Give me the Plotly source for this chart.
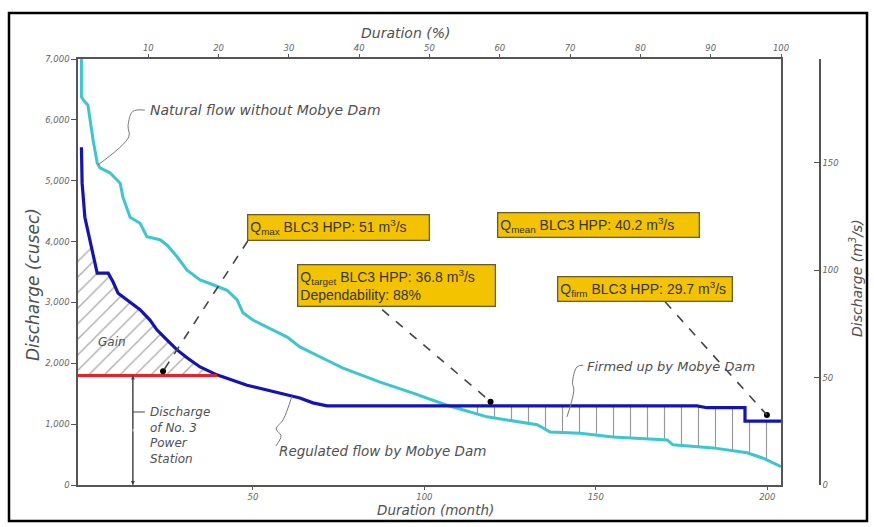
import numpy as np
import plotly.graph_objects as go

# ---------------- data ----------------
nat_month = [0, 0, 0.8, 1.9, 3.4, 4.6, 5.4, 8.3, 11.3, 12.1, 14.2, 17.1, 19.1, 22.9, 25.0, 27.9,
             30.8, 34.6, 38.4, 42.5, 45.4, 47.1, 50.0, 54.1, 60.0, 63.7, 67.5, 71.6, 76.3, 81.3,
             87.1, 96.7, 106.6, 118.3, 127.9, 132.9, 136.7, 145.4, 155.0, 170.8, 172.5, 184.2,
             194.1, 198.8, 204.0]
nat_cfs = [7000, 6380, 6310, 6240, 5670, 5290, 5210, 5130, 4960, 4730, 4400, 4300, 4080, 4030, 3940,
           3750, 3530, 3370, 3290, 3200, 3040, 2830, 2710, 2600, 2430, 2270, 2170, 2050, 1920, 1810,
           1690, 1510, 1310, 1120, 1040, 990, 870, 850, 790, 740, 660, 610, 530, 440, 300]

reg_month = [0, 0.2, 1.0, 2.5, 4.0, 4.6, 7.8, 9.2, 10.7, 13.3, 17.1, 20.0, 22.0, 25.0, 27.9, 30.8,
             34.6, 39.5, 44.2, 48.3, 54.1, 60.0, 63.7, 67.5, 71.6, 179.5, 182.4, 193.5, 193.5, 204.0]
reg_cfs = [5550, 4960, 4400, 4030, 3650, 3480, 3480, 3340, 3150, 3040, 2880, 2710, 2550, 2380, 2220,
           2090, 1940, 1810, 1720, 1640, 1560, 1480, 1430, 1350, 1300, 1300, 1270, 1270, 1050, 1050]

station_cfs = 1800          # discharge of No. 3 power station (~51 m3/s)
gain_top_cfs = 3900         # upper end of the hatched "Gain" area

left_ticks = [0, 1000, 2000, 3000, 4000, 5000, 6000, 7000]
left_ticktext = ["0", "1,000", "2,000", "3,000", "4,000", "5,000", "6,000", "7,000"]
month_ticks = [50, 100, 150, 200]
pct_ticks = [10, 20, 30, 40, 50, 60, 70, 80, 90, 100]
m3s_ticks = [0, 50, 100, 150]
CFS_PER_M3S = 35.3147

box_texts = [
    "Q<sub>max</sub> BLC3 HPP: 51 m<sup>3</sup>/s",
    "Q<sub>mean</sub> BLC3 HPP: 40.2 m<sup>3</sup>/s",
    "Q<sub>target</sub> BLC3 HPP: 36.8 m<sup>3</sup>/s<br>Dependability: 88%",
    "Q<sub>firm</sub> BLC3 HPP: 29.7 m<sup>3</sup>/s",
]
# dashed pointer lines (start month, start cfs, end month, end cfs)
pointers = [
    (48.5, 4010, 23.8, 1870),
    (87.7, 2880, 119.3, 1370),
    (170.2, 3010, 199.9, 1150),
]

# ---------------- geometry helpers ----------------
L, R, T, B = 78, 54, 59, 42
W, H = 874, 527
PW = W - L - R
PH = H - T - B
DOM = (781 - L) / PW


def px(x):
    return (x - L) / PW


def py(y):
    return (H - B - y) / PH


CYAN = "#3cc6d2"
BLUE = "#1414b4"
RED = "#e3242b"
INK = "#555555"
HAND = dict(family="DejaVu Sans", color="#505050", style="italic")

fig = go.Figure()

# ---- Gain hatched area (between axis, station line and regulated curve) ----
rm = np.array(reg_month, float)
rc = np.array(reg_cfs, float)
top_m = np.interp(gain_top_cfs, rc[:5][::-1], rm[:5][::-1])
mono = slice(0, 18)
end_m = np.interp(station_cfs, rc[mono][::-1], rm[mono][::-1])
sel = (rm > top_m) & (rm < end_m)
gx = [-1, -1, top_m] + list(rm[sel]) + [end_m, -1]
gy = [station_cfs, gain_top_cfs, gain_top_cfs] + list(rc[sel]) + [station_cfs, station_cfs]
fig.add_trace(go.Scatter(x=gx, y=gy, fill="toself", mode="lines", line=dict(width=0),
                         fillcolor="rgba(0,0,0,0)",
                         fillpattern=dict(shape="/", fgcolor="#555", bgcolor="rgba(0,0,0,0)",
                                          size=11, solidity=0.12),
                         hoverinfo="skip"))

# ---- Firmed-up vertical hatching (regulated above natural) ----
grid = np.linspace(100, 204, 600)
b = np.interp(grid, rm, rc)
n = np.interp(grid, nat_month, nat_cfs)
ok = b > n
fx = list(grid[ok]) + list(grid[ok][::-1])
fy = list(b[ok]) + list(n[ok][::-1])
fig.add_trace(go.Scatter(x=fx, y=fy, fill="toself", mode="lines", line=dict(width=0),
                         fillcolor="rgba(0,0,0,0)",
                         fillpattern=dict(shape="|", fgcolor="#333", bgcolor="rgba(0,0,0,0)",
                                          size=17, solidity=0.07),
                         hoverinfo="skip"))

# ---- curves ----
fig.add_trace(go.Scatter(x=nat_month, y=nat_cfs, mode="lines",
                         line=dict(color=CYAN, width=3), hoverinfo="skip"))
fig.add_trace(go.Scatter(x=reg_month, y=reg_cfs, mode="lines",
                         line=dict(color=BLUE, width=3.2), hoverinfo="skip"))
fig.add_trace(go.Scatter(x=[-1, end_m], y=[station_cfs, station_cfs], mode="lines",
                         line=dict(color=RED, width=3), hoverinfo="skip"))

# ---- leader lines (hand drawn) ----
leaders = [
    ([18.5, 15.0, 13.6, 13.8, 4.8], [6160, 6140, 5910, 5720, 5260]),
    ([61.4, 60.0, 58.8, 56.8, 58.2, 56.7], [1460, 1230, 1070, 920, 810, 640]),
    ([146.3, 144.5, 143.2, 143.6, 141.6], [1970, 1940, 1680, 1560, 1120]),
]
for lx, ly in leaders:
    fig.add_trace(go.Scatter(x=lx, y=ly, mode="lines", line=dict(color="#777", width=1, shape="spline"),
                             hoverinfo="skip"))

# pointer end dots
fig.add_trace(go.Scatter(x=[p[2] for p in pointers], y=[p[3] for p in pointers], mode="markers",
                         marker=dict(color="black", size=6), hoverinfo="skip"))

# invisible traces to activate secondary axes
fig.add_trace(go.Scatter(x=[0, 100], y=[0, 0], xaxis="x2", mode="markers",
                         marker=dict(opacity=0), hoverinfo="skip"))
fig.add_trace(go.Scatter(x=[0, 0], y=[0, 0], yaxis="y2", mode="markers",
                         marker=dict(opacity=0), hoverinfo="skip"))

shapes = []
for sx, sy, ex, ey in pointers:
    shapes.append(dict(type="line", xref="x", yref="y", x0=sx, y0=sy, x1=ex, y1=ey,
                       line=dict(color="#444", width=1.6, dash="dash")))
# discharge of No.3 vertical dimension line
sta_m = 15.0
shapes.append(dict(type="line", xref="x", yref="y", x0=sta_m, x1=sta_m, y0=0, y1=station_cfs,
                   line=dict(color="#444", width=1)))
shapes.append(dict(type="line", xref="x", yref="y", x0=sta_m, x1=sta_m + 3.5, y0=1200, y1=1200,
                   line=dict(color="#444", width=1)))
# outer frame
shapes.append(dict(type="rect", xref="paper", yref="paper", x0=px(9), x1=px(867), y0=py(521), y1=py(13),
                   line=dict(color="black", width=2.5)))

ann = []
tf = dict(family="Liberation Sans", size=14, color="#333")
boxes = [(247, 214, 183, 27), (497, 212, 203, 26), (297, 264, 199, 43), (557, 276, 176, 26)]
for (bx, by, bw, bh), t in zip(boxes, box_texts):
    ann.append(dict(x=px(bx), y=py(by), xref="paper", yref="paper", xanchor="left", yanchor="top",
                    text=t, showarrow=False, align="left", font=tf, bgcolor="#f4c300",
                    bordercolor="#6a5b2c", borderwidth=1.3, borderpad=2, width=bw - 7, height=bh - 7))

for xx, yy, t, size in [
    (148, 110, "Natural flow without Mobye Dam", 14),
    (96, 342, "Gain", 12),
    (277, 451, "Regulated flow by Mobye Dam", 13.5),
    (585, 366, "Firmed up by Mobye Dam", 13),
]:
    ann.append(dict(x=px(xx), y=py(yy), xref="paper", yref="paper", xanchor="left", yanchor="middle",
                    text=t, showarrow=False, font=dict(size=size, **HAND)))
ann.append(dict(x=px(148), y=py(403), xref="paper", yref="paper", xanchor="left", yanchor="top",
                text="Discharge<br>of No. 3<br>Power<br>Station", showarrow=False, align="left",
                font=dict(size=12, **HAND)))
ann.append(dict(x=px(405), y=py(33), xref="paper", yref="paper", xanchor="center", yanchor="middle",
                text="Duration (%)", showarrow=False, font=dict(size=14, **HAND)))
ann.append(dict(x=px(435), y=py(510), xref="paper", yref="paper", xanchor="center", yanchor="middle",
                text="Duration (month)", showarrow=False, font=dict(size=13.5, **HAND)))
ann.append(dict(x=px(33), y=py(285), xref="paper", yref="paper", xanchor="center", yanchor="middle",
                text="Discharge (cusec)", showarrow=False, textangle=-90, font=dict(size=17, **HAND)))
ann.append(dict(x=px(856), y=py(278), xref="paper", yref="paper", xanchor="center", yanchor="middle",
                text="Discharge (m<sup>3</sup>/s)", showarrow=False, textangle=-90,
                font=dict(size=14, **HAND)))
# arrowheads of the dimension line
for yv, ayv in [(0, 900), (station_cfs, 900)]:
    ann.append(dict(x=sta_m, y=yv, ax=sta_m, ay=ayv, xref="x", yref="y", axref="x", ayref="y",
                    text="", showarrow=True, arrowhead=2, arrowsize=0.8, arrowwidth=1, arrowcolor="#444"))

tickfont = dict(family="DejaVu Sans", size=8.5, color="#666", style="italic")
axline = dict(showline=True, linecolor=INK, linewidth=1.5, showgrid=False, zeroline=False,
              tickcolor=INK, tickfont=tickfont)

fig.update_layout(
    width=W, height=H, margin=dict(l=L, r=R, t=T, b=B),
    paper_bgcolor="white", plot_bgcolor="white", showlegend=False,
    xaxis=dict(domain=[0, DOM], range=[-1, 204], tickvals=month_ticks, ticks="outside", ticklen=3,
               **axline),
    xaxis2=dict(domain=[0, DOM], overlaying="x", side="top", anchor="y", range=[0, 100],
                tickvals=pct_ticks, ticks="outside", ticklen=3, **axline),
    yaxis=dict(range=[0, 7000], tickvals=left_ticks, ticktext=left_ticktext, ticks="outside",
               ticklen=5, mirror=True, **axline),
    yaxis2=dict(overlaying="y", anchor="free", position=1, side="right",
                range=[0, 7000 / CFS_PER_M3S], tickvals=m3s_ticks, ticks="inside", ticklen=5,
                **axline),
    shapes=shapes, annotations=ann,
)

fig.write_html("out.html", config={"displayModeBar": False},
               post_script="document.body.style.margin='0';document.body.style.overflow='hidden';")
